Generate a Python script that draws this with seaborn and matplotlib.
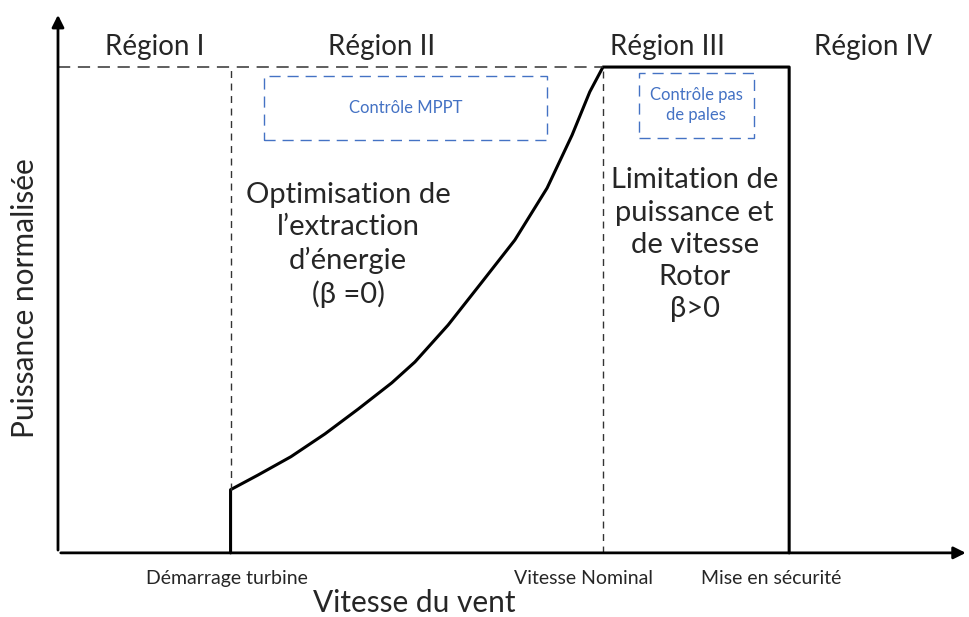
import matplotlib
matplotlib.use("Agg")
import matplotlib.pyplot as plt
from matplotlib.patches import Rectangle
import seaborn as sns
import pandas as pd

# power curve (wind speed, normalised power)
wind_speed = [3.8, 3.8, 4.40, 5.13, 5.88, 6.61, 7.35, 7.86, 8.59, 9.34, 10.06,
              10.77, 11.32, 11.71, 12.0, 16.1, 16.1]
power = [0.0, 0.13, 0.160, 0.198, 0.245, 0.296, 0.350, 0.393, 0.469, 0.558, 0.644,
         0.751, 0.860, 0.949, 1.0, 1.0, 0.0]

v_start = 3.8
v_nominal = 12.0
v_cutout = 16.1
tick_names = ["Démarrage turbine", "Vitesse Nominal", "Mise en sécurité"]
region_names = ["Région I", "Région II", "Région III", "Région IV"]
region_x = [2.14, 7.13, 13.43, 17.94]

sns.set_style("white")
plt.rcParams['font.family'] = ['Lato', 'DejaVu Sans']

fig = plt.figure(figsize=(9.69, 6.17), dpi=100)
ax = fig.add_axes([0, 0, 1, 1])
ax.set_xlim(-1.277, 20.06)
ax.set_ylim(-0.132, 1.138)
ax.axis("off")

df = pd.DataFrame({"v": wind_speed, "p": power})
sns.lineplot(data=df, x="v", y="p", sort=False, estimator=None,
             color="black", linewidth=2.2, ax=ax)

# axes with arrows
ax.annotate("", xy=(0, 1.113), xytext=(0, 0),
            arrowprops=dict(arrowstyle="-|>", color="black", lw=2, mutation_scale=18))
ax.annotate("", xy=(20.05, 0), xytext=(0, 0),
            arrowprops=dict(arrowstyle="-|>", color="black", lw=2, mutation_scale=18))

# guide lines
ax.plot([0, v_nominal], [1, 1], color="#333333", lw=1.1, ls=(0, (8, 5)))
ax.plot([v_start, v_start], [0.13, 1], color="#333333", lw=1.0, ls=(0, (5, 4)))
ax.plot([v_nominal, v_nominal], [0, 1], color="#333333", lw=1.0, ls=(0, (5, 4)))

# control boxes
blue = "#4472C4"
ax.add_patch(Rectangle((4.54, 0.850), 10.77 - 4.54, 0.981 - 0.850, fill=False,
                       edgecolor=blue, lw=1.0, ls=(0, (8, 5))))
ax.text(7.65, 0.915, "Contrôle MPPT", color=blue, fontsize=12, ha="center", va="center")
ax.add_patch(Rectangle((12.79, 0.854), 15.32 - 12.79, 0.988 - 0.854, fill=False,
                       edgecolor=blue, lw=1.0, ls=(0, (8, 5))))
ax.text(14.05, 0.921, "Contrôle pas\nde pales", color=blue, fontsize=12,
        ha="center", va="center", linespacing=1.3)

for name, x in zip(region_names, region_x):
    ax.text(x, 1.041, name, fontsize=20, ha="center", va="center")

ax.text(6.39, 0.634, "Optimisation de\nl\u2019extraction\nd\u2019énergie\n(β =0)",
        fontsize=21, ha="center", va="center", linespacing=1.3)
ax.text(14.02, 0.634, "Limitation de\npuissance et\nde vitesse\nRotor\nβ>0",
        fontsize=21, ha="center", va="center", linespacing=1.3)

for name, x in zip(tick_names, [v_start - 0.09, v_nominal - 0.43, v_cutout - 0.39]):
    ax.text(x, -0.052, name, fontsize=14, ha="center", va="center")

ax.text(7.84, -0.103, "Vitesse du vent", fontsize=21.5, ha="center", va="center")
ax.text(-0.73, 0.525, "Puissance normalisée", fontsize=21.5, ha="center", va="center",
        rotation=90)

fig.savefig("out.png", dpi=100)
